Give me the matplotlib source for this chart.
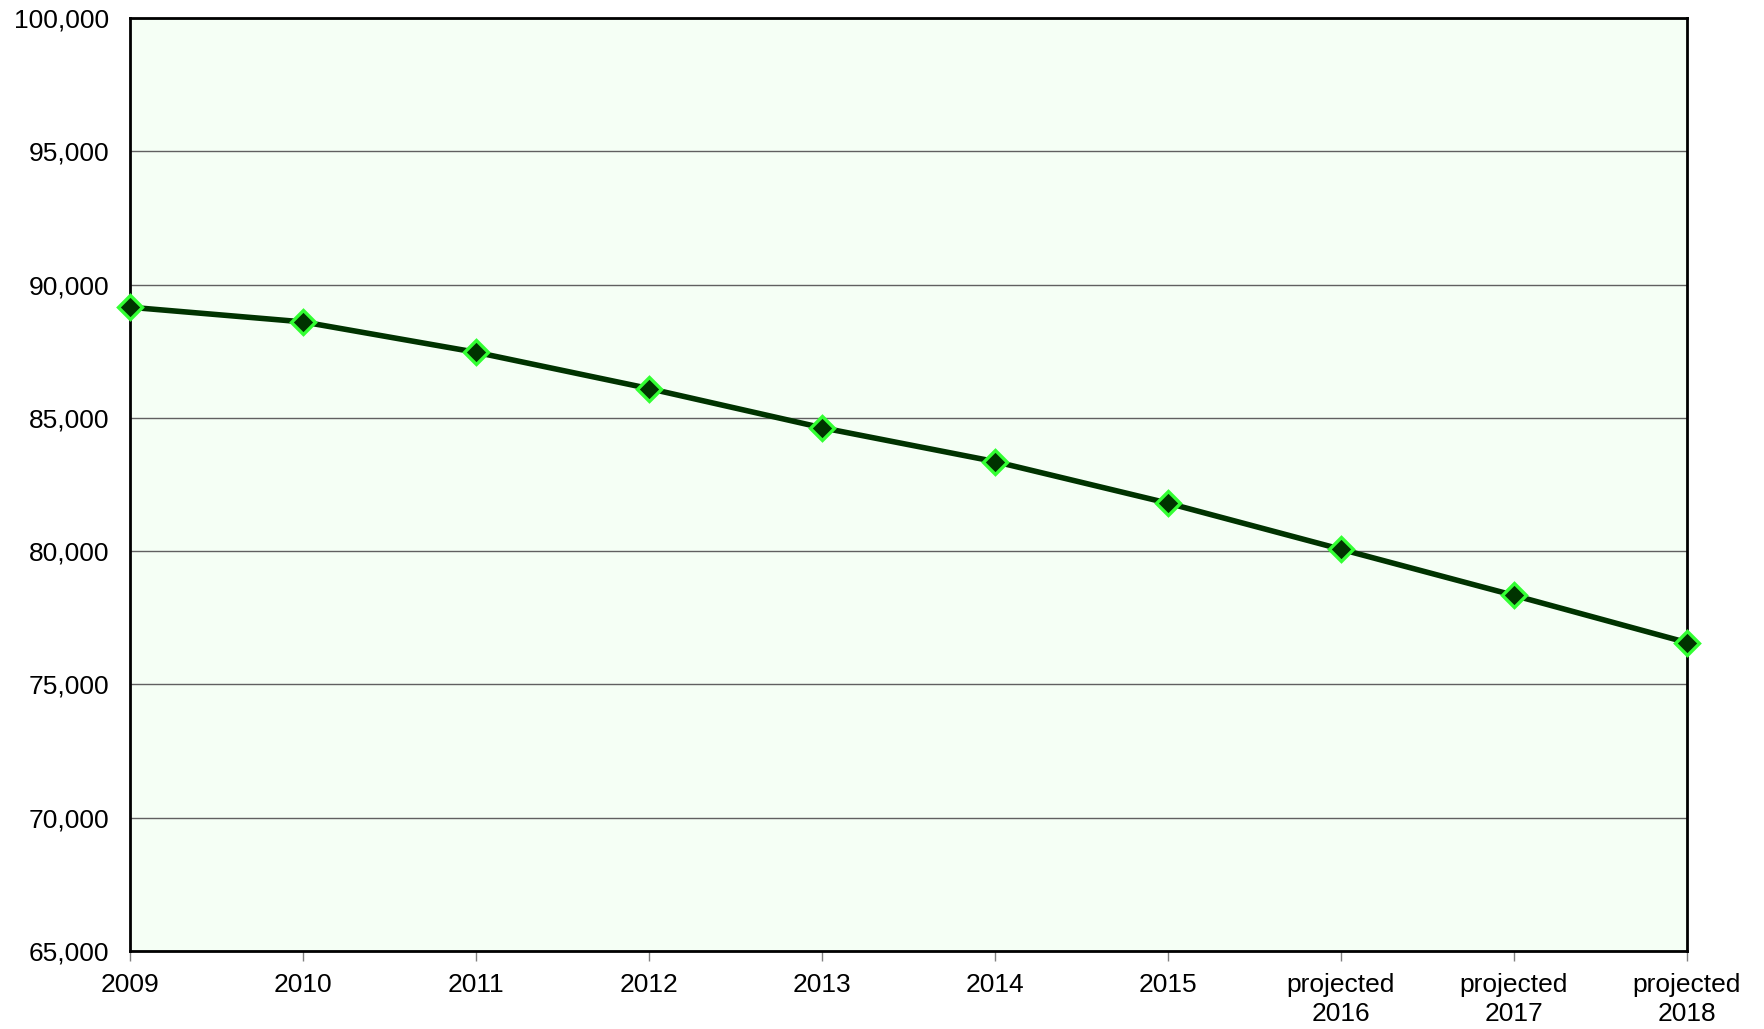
import matplotlib.pyplot as plt
from matplotlib.ticker import FuncFormatter

plt.rcParams['font.family'] = ['Liberation Sans', 'DejaVu Sans']

years = ['2009', '2010', '2011', '2012', '2013', '2014', '2015',
         'projected\n2016', 'projected\n2017', 'projected\n2018']
values = [89150, 88600, 87460, 86100, 84630, 83360, 81800, 80070, 78340, 76570]

fig = plt.figure(figsize=(17.65, 10.29), dpi=100)
ax = fig.add_axes([130 / 1765, 1 - 951 / 1029, 1557 / 1765, 933 / 1029])
ax.set_facecolor('#f5fff5')

x = list(range(len(years)))
ax.plot(x, values, color='#003300', lw=4, marker='D', markersize=12.5,
        markerfacecolor='#003300', markeredgecolor='#33ff33', markeredgewidth=2.4,
        zorder=3, clip_on=False)

ax.set_xlim(0, len(years) - 1)
ax.set_ylim(65000, 100000)
ax.set_yticks(range(65000, 100001, 5000))
ax.yaxis.set_major_formatter(FuncFormatter(lambda v, p: f'{int(v):,}'))
ax.set_xticks(x)
ax.set_xticklabels(years, linespacing=1.25)
ax.grid(axis='y', color='#606060', lw=1)
ax.set_axisbelow(True)

for s in ax.spines.values():
    s.set_linewidth(2)
    s.set_color('black')

ax.tick_params(axis='y', length=0, pad=15, labelsize=19)
ax.tick_params(axis='x', length=7, width=1, color='#808080', pad=9, labelsize=19)

fig.savefig('out.png', dpi=100)
